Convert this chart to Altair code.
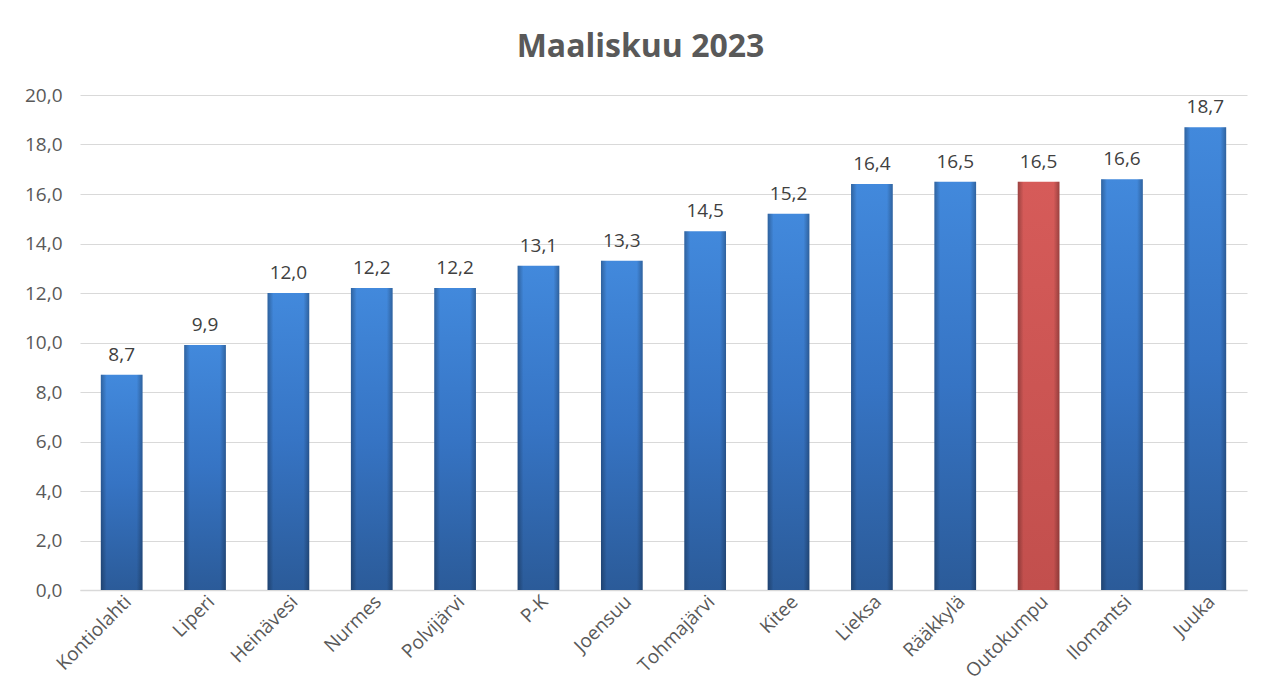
import altair as alt
import pandas as pd

municipalities = ["Kontiolahti", "Liperi", "Heinävesi", "Nurmes", "Polvijärvi", "P-K",
                  "Joensuu", "Tohmajärvi", "Kitee", "Lieksa", "Rääkkylä", "Outokumpu",
                  "Ilomantsi", "Juuka"]
values = [8.7, 9.9, 12.0, 12.2, 12.2, 13.1, 13.3, 14.5, 15.2, 16.4, 16.5, 16.5, 16.6, 18.7]
highlight = "Outokumpu"

df = pd.DataFrame({"kunta": municipalities, "arvo": values})
df["teksti"] = df["arvo"].map(lambda v: f"{v:.1f}".replace(".", ","))
df["ryhma"] = ["korostus" if k == highlight else "muu" for k in df["kunta"]]

FONT = "Open Sans"

x_enc = alt.X("kunta:N", sort=municipalities, title=None,
              scale=alt.Scale(paddingInner=0.5, paddingOuter=0.25),
              axis=alt.Axis(labelAngle=-45, labelAlign="right", labelBaseline="top",
                            labelFontSize=19, labelColor="#595959", labelFont=FONT,
                            ticks=False, domainColor="#d9d9d9", domainWidth=1.5,
                            labelPadding=2, grid=False))
y_enc = alt.Y("arvo:Q", title=None,
              scale=alt.Scale(domain=[0, 20], nice=False),
              axis=alt.Axis(values=list(range(0, 21, 2)),
                            labelExpr="replace(format(datum.value, '.1f'), '.', ',')",
                            labelFontSize=19, labelColor="#595959", labelFont=FONT,
                            ticks=False, domain=False, gridColor="#d9d9d9",
                            gridWidth=1.2, labelPadding=18))

blue = alt.Gradient(gradient="linear", x1=0, y1=0, x2=0, y2=1,
                    stops=[alt.GradientStop(offset=0, color="#4289dc"),
                           alt.GradientStop(offset=0.5, color="#3674c4"),
                           alt.GradientStop(offset=1, color="#2b5b99")])
red = alt.Gradient(gradient="linear", x1=0, y1=0, x2=0, y2=1,
                   stops=[alt.GradientStop(offset=0, color="#d65b59"),
                          alt.GradientStop(offset=1, color="#c24f4d")])
edge = alt.Gradient(gradient="linear", x1=0, y1=0, x2=1, y2=0,
                    stops=[alt.GradientStop(offset=0, color="rgba(0,0,0,0.28)"),
                           alt.GradientStop(offset=0.14, color="rgba(0,0,0,0)"),
                           alt.GradientStop(offset=0.86, color="rgba(0,0,0,0)"),
                           alt.GradientStop(offset=1, color="rgba(0,0,0,0.28)")])

base = alt.Chart(df).encode(x=x_enc, y=y_enc)

bars_blue = base.transform_filter(alt.datum.ryhma == "muu").mark_bar(color=blue)
bars_red = base.transform_filter(alt.datum.ryhma == "korostus").mark_bar(color=red)
bars_edge = base.mark_bar(color=edge)
labels = base.mark_text(baseline="alphabetic", dy=-14, fontSize=19, color="#404040",
                        font=FONT).encode(text="teksti:N")

chart = (alt.layer(bars_blue, bars_red, bars_edge, labels)
         .properties(width=1167, height=495,
                     title=alt.TitleParams("Maaliskuu 2023", fontSize=32, font=FONT,
                                           fontWeight="bold", color="#595959",
                                           anchor="middle", dx=-23, offset=22),
                     autosize=alt.AutoSizeParams(type="none"),
                     padding={"left": 72, "top": 87, "right": 17, "bottom": 93})
         .configure_view(stroke=None))

chart.save("out.html", embed_options={"renderer": "svg", "actions": False})
